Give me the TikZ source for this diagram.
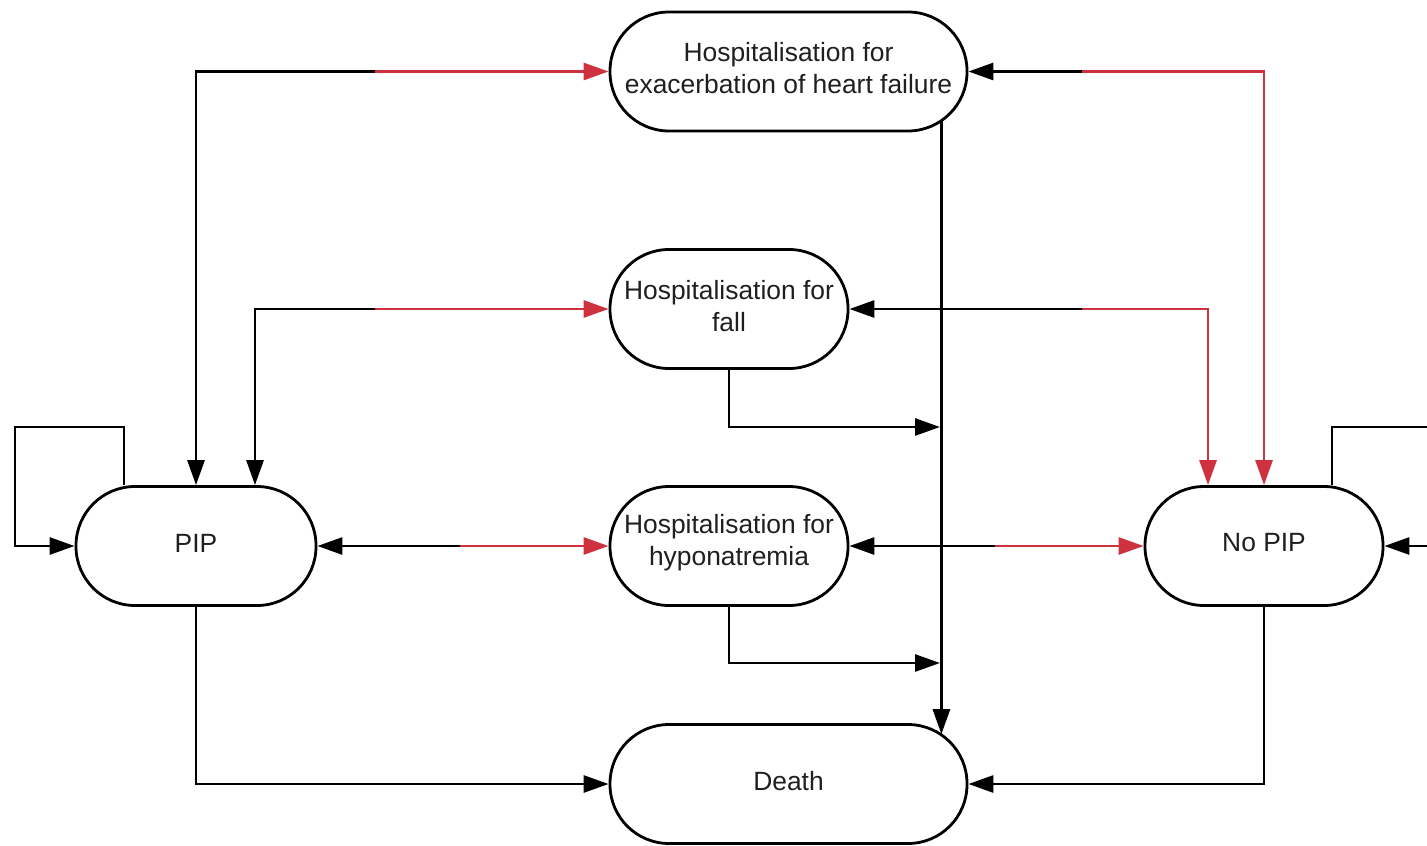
\documentclass[tikz,border=0pt]{standalone}
\usepackage{fontspec}
\setmainfont{Liberation Sans}
\usetikzlibrary{arrows.meta}
\definecolor{flowred}{RGB}{205,50,62}
\begin{document}
\begin{tikzpicture}[x=0.5pt,y=-0.5pt,
  state/.style={draw, line width=1.4pt, rounded corners=29.5pt,
    minimum height=59.5pt, fill=white, inner sep=0pt},
  txt/.style={inner sep=0pt, align=center, yshift=1.5pt,
    font=\fontsize{13.2}{16}\selectfont, text=black!88},
  plain/.style={line width=1.4pt},
  link/.style={plain, -{Triangle[length=12.5pt,width=8.5pt]}}]

\useasboundingbox (0,0) rectangle (1427,845);
\clip (0,0) rectangle (1427,845);

% states
\node[state, minimum width=178.5pt,
  label={[txt]center:{Hospitalisation for\\exacerbation of heart failure}}]
  (hf) at (788.5,71.5) {};
\node[state, minimum width=119pt,
  label={[txt]center:{Hospitalisation for\\fall}}]
  (fall) at (729,309) {};
\node[state, minimum width=119pt,
  label={[txt]center:{Hospitalisation for\\hyponatremia}}]
  (hypo) at (729,546) {};
\node[state, minimum width=120pt, label={[txt]center:PIP}]
  (pip) at (196,546) {};
\node[state, minimum width=119pt, label={[txt]center:No PIP}]
  (nopip) at (1264,546) {};
\node[state, minimum width=178.5pt, label={[txt]center:Death}]
  (death) at (788.5,784) {};

% points where two-way links change colour
\coordinate (sHFl) at (375,71.5);
\coordinate (sFLl) at (375,309);
\coordinate (sHYl) at (460,546);
\coordinate (sHFr) at (1082,71.5);
\coordinate (sFLr) at (1082,309);
\coordinate (sHYr) at (995,546);
% junctions on the line to death
\coordinate (jFall) at (940,427);
\coordinate (jHypo) at (940,663);
% self loops
\coordinate (loopLtop) at (15,427);
\coordinate (loopL) at (15,546);
\coordinate (loopRtop) at (1440,427);
\coordinate (loopRin) at (1440,546);

% PIP <-> hospitalisations
\draw[link] (sHFl) -| (pip.north);
\draw[link, flowred] (sHFl) -- (hf.west);
\draw[link] (sFLl) -| ([xshift=29.5pt]pip.north);
\draw[link, flowred] (sFLl) -- (fall.west);
\draw[link] (sHYl) -- (pip.east);
\draw[link, flowred] (sHYl) -- (hypo.west);

% hospitalisations <-> No PIP
\draw[link] (sHFr) -- (hf.east);
\draw[link, flowred] (sHFr) -| (nopip.north);
\draw[link] (sFLr) -- (fall.east);
\draw[link, flowred] (sFLr) -| ([xshift=-28pt]nopip.north);
\draw[link] (sHYr) -- (hypo.east);
\draw[link, flowred] (sHYr) -- (nopip.west);

% transitions to death
\draw[link] ([xshift=-13.5pt,yshift=-24.9pt]hf.east)
  -- ([xshift=-13.5pt,yshift=24.9pt]death.east);
\draw[link] (fall.south) |- (jFall);
\draw[link] (hypo.south) |- (jHypo);
\draw[link] (pip.south) |- (death.west);
\draw[link] (nopip.south) |- (death.east);

% staying in the same state
\draw[link] ([xshift=-36pt]pip.north) |- (loopLtop) -- (loopL) -- (pip.west);
\draw[plain] ([xshift=34pt]nopip.north) |- (loopRtop);
\draw[link] (loopRin) -- (nopip.east);
\end{tikzpicture}
\end{document}
